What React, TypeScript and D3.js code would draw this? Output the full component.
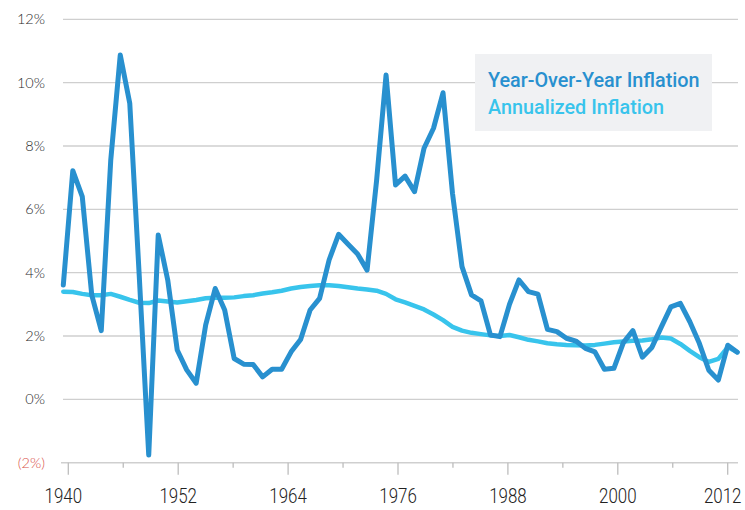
import React, { useRef, useEffect } from "react";
import { select, scaleLinear, line, range } from "d3";

// values, one per year starting 1940
const startYear = 1940;
const yoyInflation = [
  3.61, 7.22, 6.4, 3.29, 2.17, 7.56, 10.87, 9.35, 3.9, -1.76,
  5.19, 3.77, 1.56, 0.93, 0.51, 2.35, 3.5, 2.82, 1.29, 1.11,
  1.1, 0.71, 0.95, 0.95, 1.5, 1.89, 2.82, 3.19, 4.4, 5.21,
  4.9, 4.59, 4.08, 6.9, 10.24, 6.77, 7.05, 6.56, 7.93, 8.56,
  9.68, 6.5, 4.19, 3.3, 3.11, 2.03, 1.98, 3.0, 3.77, 3.4,
  3.32, 2.21, 2.14, 1.93, 1.84, 1.61, 1.5, 0.95, 0.98, 1.79,
  2.17, 1.33, 1.64, 2.29, 2.92, 3.03, 2.45, 1.77, 0.92, 0.61,
  1.71, 1.49,
];
const annualizedInflation = [
  3.4, 3.39, 3.33, 3.29, 3.29, 3.33, 3.24, 3.14, 3.05, 3.04,
  3.12, 3.09, 3.06, 3.1, 3.14, 3.19, 3.21, 3.21, 3.22, 3.26,
  3.29, 3.34, 3.38, 3.43, 3.5, 3.55, 3.58, 3.6, 3.6, 3.58,
  3.54, 3.5, 3.47, 3.43, 3.33, 3.16, 3.06, 2.95, 2.84, 2.68,
  2.5, 2.29, 2.17, 2.1, 2.06, 2.02, 2.0, 2.03, 1.96, 1.88,
  1.83, 1.77, 1.74, 1.72, 1.71, 1.7, 1.72, 1.76, 1.8, 1.83,
  1.85, 1.86, 1.9, 1.95, 1.92, 1.75, 1.53, 1.33, 1.18, 1.28,
  1.65, 1.49,
];
const yTicks = [-2, 0, 2, 4, 6, 8, 10, 12];
const xMajorTicks = [1940, 1952, 1964, 1976, 1988, 2000, 2012];
const xMinorTicks = [1946, 1958, 1970, 1982, 1994, 2006];
const legendLabels = ["Year-Over-Year Inflation", "Annualized Inflation"];

const DARK = "#2890cf";
const LIGHT = "#38c4ec";
const GRID = "#cfcfcf";

function InflationChart() {
  const svgRef = useRef<SVGSVGElement>(null);

  useEffect(() => {
    const svg = select(svgRef.current);
    svg.selectAll("*").remove();

    const years = range(yoyInflation.length).map((i) => startYear + i);

    const yScale = scaleLinear().domain([-2, 12]).range([462.7, 19.3]);
    // points sit a touch wider than the labelled ticks in the original
    const xData = scaleLinear()
      .domain([startYear, years[years.length - 1]])
      .range([63.3, 737.3]);
    const xAxisScale = scaleLinear().domain([1940, 2012]).range([68.3, 727.7]);

    // gridlines
    svg
      .append("g")
      .selectAll("line")
      .data(yTicks.filter((t) => t > -2))
      .join("line")
      .attr("x1", 63)
      .attr("x2", 738)
      .attr("y1", (d) => yScale(d))
      .attr("y2", (d) => yScale(d))
      .attr("stroke", GRID)
      .attr("stroke-width", 1.3);

    // y labels
    svg
      .append("g")
      .selectAll("text")
      .data(yTicks)
      .join("text")
      .attr("x", 45)
      .attr("y", (d) => yScale(d))
      .attr("dy", "0.35em")
      .attr("text-anchor", "end")
      .attr("font-family", "Lato, sans-serif")
      .attr("font-weight", 300)
      .attr("font-size", 14.5)
      .attr("fill", (d) => (d < 0 ? "#d9534a" : "#2a2a2a"))
      .text((d) => (d < 0 ? `(${Math.abs(d)}%)` : `${d}%`));

    // x axis
    const xAxis = svg.append("g");
    xAxis
      .append("line")
      .attr("x1", 61)
      .attr("x2", 738)
      .attr("y1", yScale(-2))
      .attr("y2", yScale(-2))
      .attr("stroke", GRID)
      .attr("stroke-width", 1.5);
    xAxis
      .selectAll(".major")
      .data(xMajorTicks)
      .join("line")
      .attr("class", "major")
      .attr("x1", (d) => xAxisScale(d))
      .attr("x2", (d) => xAxisScale(d))
      .attr("y1", yScale(-2))
      .attr("y2", yScale(-2) + 12)
      .attr("stroke", "#bdbdbd")
      .attr("stroke-width", 1.3);
    xAxis
      .selectAll(".minor")
      .data(xMinorTicks)
      .join("line")
      .attr("class", "minor")
      .attr("x1", (d) => xAxisScale(d))
      .attr("x2", (d) => xAxisScale(d))
      .attr("y1", yScale(-2))
      .attr("y2", yScale(-2) + 5)
      .attr("stroke", "#bdbdbd")
      .attr("stroke-width", 1.3);
    // the original uses a narrow face, so squeeze the year labels a bit;
    // end labels are nudged inward like in the source
    const last = xMajorTicks.length - 1;
    xAxis
      .selectAll("text")
      .data(xMajorTicks)
      .join("text")
      .attr("x", (d, i) => xAxisScale(d) + (i === 0 || i === last ? -5 : 0))
      .attr("y", 503)
      .attr("text-anchor", "middle")
      .attr("font-family", "Roboto, sans-serif")
      .attr("font-weight", 300)
      .attr("font-size", 20.5)
      .attr("textLength", 37.5)
      .attr("lengthAdjust", "spacingAndGlyphs")
      .attr("fill", "#222")
      .text((d) => d);

    const lineGen = line<number>()
      .x((_, i) => xData(years[i]))
      .y((d) => yScale(d));

    svg
      .append("path")
      .datum(annualizedInflation)
      .attr("d", lineGen)
      .attr("fill", "none")
      .attr("stroke", LIGHT)
      .attr("stroke-width", 4.5)
      .attr("stroke-linejoin", "round")
      .attr("stroke-linecap", "round");

    svg
      .append("path")
      .datum(yoyInflation)
      .attr("d", lineGen)
      .attr("fill", "none")
      .attr("stroke", DARK)
      .attr("stroke-width", 5)
      .attr("stroke-linejoin", "round")
      .attr("stroke-linecap", "round");

    // legend
    const legend = svg.append("g");
    legend
      .append("rect")
      .attr("x", 475)
      .attr("y", 54)
      .attr("width", 237)
      .attr("height", 77)
      .attr("fill", "#f0f1f3");
    legend
      .selectAll("text")
      .data(legendLabels)
      .join("text")
      .attr("x", 488)
      .attr("y", (_, i) => 86.7 + i * 27.5)
      .attr("font-family", "Roboto, sans-serif")
      .attr("font-weight", 500)
      .attr("font-size", 19.8)
      .attr("fill", (_, i) => (i === 0 ? DARK : LIGHT))
      .text((d) => d);
  }, []);

  return <svg ref={svgRef} width={745} height={510} />;
}

export default function App() {
  return (
    <div style={{ position: "absolute", left: 0, top: 0, width: 745, height: 510, background: "#fff" }}>
      <InflationChart />
    </div>
  );
}
